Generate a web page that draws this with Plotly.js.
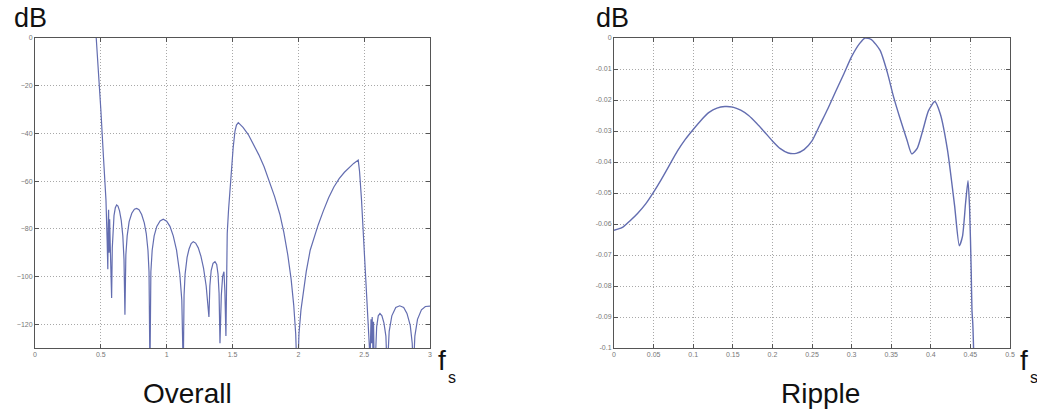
<!DOCTYPE html>
<html>
<head>
<meta charset="utf-8">
<script src="https://cdn.plot.ly/plotly-3.0.1.min.js"></script>
<style>html,body{margin:0;padding:0;background:#fff;}#chart{width:1037px;height:411px;}</style>
</head>
<body>
<div id="chart"></div>
<script>
// Overall response (frequency in units of fs, magnitude in dB)
var overallFreq = [0.465,0.48,0.50,0.52,0.539,0.548,0.553,0.556,0.559,0.563,0.567,0.572,0.578,0.582,
  0.587,0.592,0.600,0.610,0.620,0.630,0.642,0.655,0.667,0.676,0.683,
  0.69,0.70,0.715,0.735,0.755,0.772,0.79,0.81,0.83,0.845,0.858,0.866,0.873,
  0.88,0.89,0.905,0.925,0.95,0.974,1.0,1.025,1.05,1.075,1.1,1.115,1.126,
  1.132,1.14,1.155,1.17,1.186,1.202,1.22,1.24,1.26,1.28,1.30,1.312,1.321,
  1.328,1.338,1.352,1.367,1.38,1.39,1.398,1.405,
  1.415,1.425,1.435,1.442,1.45,
  1.455,1.46,1.47,1.48,1.493,1.505,1.519,1.53,1.544,
  1.58,1.62,1.66,1.70,1.74,1.78,1.82,1.86,1.89,1.92,1.945,1.965,1.98,1.992,
  2.005,2.02,2.037,2.06,2.09,2.12,2.15,2.19,2.23,2.27,2.31,2.35,2.39,2.42,2.455,
  2.465,2.48,2.495,2.51,2.525,2.535,2.545,
  2.552,2.556,2.561,2.566,2.571,2.576,2.585,
  2.595,2.607,2.62,2.635,2.65,2.665,2.675,2.69,2.71,2.74,2.77,2.80,2.825,2.85,2.865,2.873,
  2.885,2.905,2.935,2.965,3.0];
var overallDb = [0,-12,-30,-50,-68,-85,-97,-78,-72,-90,-76,-88,-100,-109,
  -88,-80,-74.5,-71.2,-70,-70.5,-72.5,-76.5,-83,-93,-116,
  -91,-83,-77,-73.5,-71.8,-71.5,-72,-74,-77.5,-82,-89,-98,-140,
  -98,-89,-83,-79,-76.7,-76,-76.8,-79,-83,-89,-99,-110,-140,
  -108,-99,-92,-88.5,-86.2,-85.4,-86,-88,-91.5,-96.5,-104,-111,-117,
  -104,-97.5,-94.5,-93.8,-95,-99,-107,-128,
  -108,-100,-98,-106,-125,
  -95,-82,-72,-64,-55,-46,-39,-36.5,-35.5,
  -37.5,-40.5,-44.5,-49,-54,-60,-66.5,-74,-81.5,-91,-101,-112,-124,-145,
  -124,-114,-107,-98,-89,-83.5,-78.5,-72.5,-67,-62.5,-59,-56.3,-54.2,-52.6,-51.2,
  -56,-68,-82,-96,-110,-120,-135,
  -118,-128,-117,-130,-119,-136,-135,
  -121,-116.5,-115.5,-116.5,-119.5,-125,-140,-123,-116.5,-113,-112.3,-113,-115.5,-120.5,-128,-140,
  -125,-118,-114,-112.6,-112.4];

// Passband ripple
var rippleFreq = [0,0.01,0.02,0.03,0.04,0.05,0.06,0.07,0.08,0.09,0.10,0.11,0.12,0.13,0.14,0.15,0.16,0.17,0.18,0.19,0.20,0.21,0.22,0.23,0.24,0.25,0.26,0.27,0.28,0.29,0.30,0.31,0.317,0.325,0.336,0.345,0.353,0.36,0.37,0.376,0.383,0.39,0.397,0.405,0.412,0.421,0.43,0.436,0.44,0.444,0.447,0.449,0.451,0.452,0.453,0.454];
var rippleDb = [-0.062,-0.0612,-0.059,-0.0565,-0.0535,-0.0497,-0.0455,-0.041,-0.0365,-0.0327,-0.0295,-0.0265,-0.024,-0.0226,-0.0221,-0.0223,-0.0233,-0.025,-0.0275,-0.0303,-0.0332,-0.0357,-0.0371,-0.0372,-0.036,-0.0332,-0.028,-0.0228,-0.0172,-0.0117,-0.006,-0.0018,0,-0.0005,-0.004,-0.011,-0.019,-0.025,-0.033,-0.0374,-0.0355,-0.0297,-0.0235,-0.0205,-0.0245,-0.036,-0.054,-0.067,-0.064,-0.053,-0.046,-0.055,-0.075,-0.088,-0.092,-0.1];

var overallTicksX = [0,0.5,1,1.5,2,2.5,3];
var overallTickTextX = ['0','0.5','1','1.5','2','2.5','3'];
var overallTicksY = [0,-20,-40,-60,-80,-100,-120];
var rippleTicksX = [0,0.05,0.1,0.15,0.2,0.25,0.3,0.35,0.4,0.45,0.5];
var rippleTickTextX = ['0','0.05','0.1','0.15','0.2','0.25','0.3','0.35','0.4','0.45','0.5'];
var rippleTicksY = [0,-0.01,-0.02,-0.03,-0.04,-0.05,-0.06,-0.07,-0.08,-0.09,-0.1];
var rippleTickTextY = ['0','-0.01','-0.02','-0.03','-0.04','-0.05','-0.06','-0.07','-0.08','-0.09','-0.1'];

var lineColor = '#636db0';
var traces = [
  {x: overallFreq, y: overallDb, type: 'scatter', mode: 'lines', xaxis: 'x', yaxis: 'y',
   line: {color: lineColor, width: 1.2}, hoverinfo: 'skip'},
  {x: rippleFreq, y: rippleDb, type: 'scatter', mode: 'lines', xaxis: 'x2', yaxis: 'y2',
   line: {color: lineColor, width: 1.4, shape: 'spline', smoothing: 0.6}, hoverinfo: 'skip'}
];

var W = 1037, H = 411;
function axisCommon() {
  return {
    showline: true, linecolor: '#555', linewidth: 1, mirror: 'ticks',
    ticks: 'inside', ticklen: 4, tickcolor: '#555',
    showgrid: true, gridcolor: '#a8a8a8', griddash: '1px,2px', gridwidth: 1,
    zeroline: false, tickfont: {family: 'Liberation Sans, Arial, sans-serif', size: 7, color: '#777'},
    fixedrange: true
  };
}
var yDom = [(H - 348) / H, (H - 38) / H];
var xa = Object.assign(axisCommon(), {domain: [35 / W, 430 / W], range: [0, 3], tickvals: overallTicksX, ticktext: overallTickTextX, anchor: 'y'});
var ya = Object.assign(axisCommon(), {domain: yDom, range: [-130, 0], tickvals: overallTicksY, anchor: 'x'});
var xa2 = Object.assign(axisCommon(), {domain: [614 / W, 1010 / W], range: [0, 0.5], tickvals: rippleTicksX, ticktext: rippleTickTextX, anchor: 'y2'});
var ya2 = Object.assign(axisCommon(), {domain: yDom, range: [-0.1, 0], tickvals: rippleTicksY, ticktext: rippleTickTextY, anchor: 'x2'});

var bigFont = {family: 'Liberation Sans, Arial, sans-serif', size: 28, color: '#111'};
var dbFont = {family: 'Liberation Sans, Arial, sans-serif', size: 27, color: '#111'};
var subFont = {family: 'Liberation Sans, Arial, sans-serif', size: 16, color: '#111'};
function ann(text, x, y, font, xanchor, yanchor) {
  return {text: text, x: x / W, y: 1 - y / H, xref: 'paper', yref: 'paper', showarrow: false,
          font: font, xanchor: xanchor || 'center', yanchor: yanchor || 'middle'};
}
var layout = {
  width: W, height: H,
  margin: {l: 0, r: 0, t: 0, b: 0},
  paper_bgcolor: '#fff', plot_bgcolor: '#fff',
  showlegend: false,
  xaxis: xa, yaxis: ya, xaxis2: xa2, yaxis2: ya2,
  annotations: [
    ann('dB', 12, 18, dbFont, 'left'),
    ann('dB', 594, 18, dbFont, 'left'),
    ann('f', 436, 360, bigFont, 'left'),
    ann('s', 446, 377, subFont, 'left'),
    ann('f', 1018, 360, bigFont, 'left'),
    ann('s', 1028, 377, subFont, 'left'),
    ann('Overall', 187, 393, bigFont),
    ann('Ripple', 820, 393, bigFont)
  ]
};
Plotly.newPlot('chart', traces, layout, {staticPlot: true, displayModeBar: false});
</script>
</body>
</html>
